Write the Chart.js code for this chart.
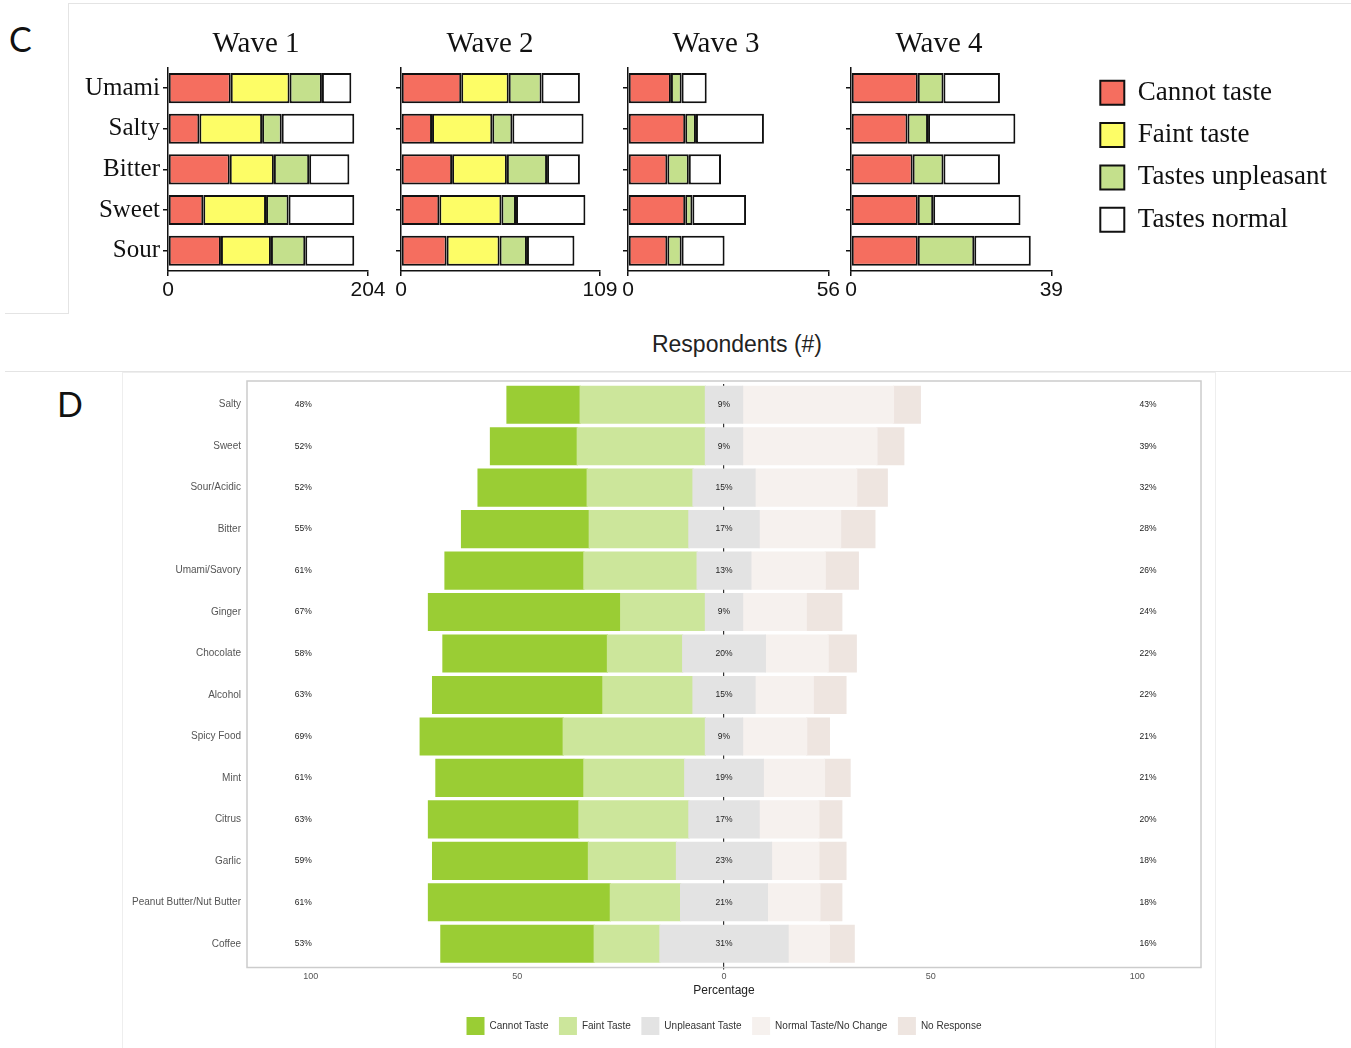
<!DOCTYPE html>
<html>
<head>
<meta charset="utf-8">
<title>Taste changes by wave</title>
<script src="https://cdn.jsdelivr.net/npm/chart.js@4.4.1/dist/chart.umd.min.js"></script>
<style>
  body { margin: 0; background: #fff; }
  #page { position: relative; width: 1351px; height: 1048px; overflow: hidden; font-family: "Liberation Sans", Arial, sans-serif; }
  canvas { position: absolute; }
  .line { position: absolute; background: #e4e4e4; }
  .panel { position: absolute; font-family: Lato, "Open Sans", sans-serif; font-size: 34px; line-height: 34px; color: #111; }
  #respondents { position: absolute; left: 537px; width: 400px; top: 331px; text-align: center; font-size: 23px; line-height: 26px; color: #222; }
  #boxD { position: absolute; left: 122px; top: 372px; width: 1092px; height: 680px; border: 1px solid #eeeeee; }
</style>
</head>
<body>
<div id="page">
  <div class="line" style="left:68px;top:3px;width:1283px;height:1px"></div>
  <div class="line" style="left:68px;top:3px;width:1px;height:310px"></div>
  <div class="line" style="left:5px;top:313px;width:64px;height:1px"></div>
  <div class="line" style="left:5px;top:371px;width:1346px;height:1px"></div>
  <div id="boxD"></div>
  <div class="panel" style="left:9px;top:22px">C</div>
  <div class="panel" style="left:57px;top:387px">D</div>
  <div id="respondents">Respondents (#)</div>

  <canvas id="wave1" width="352" height="310" style="left:80px;top:0"></canvas>
  <canvas id="wave2" width="260" height="310" style="left:360px;top:0"></canvas>
  <canvas id="wave3" width="252" height="310" style="left:590px;top:0"></canvas>
  <canvas id="wave4" width="252" height="310" style="left:813px;top:0"></canvas>
  <canvas id="waveLegend" width="264" height="400" style="left:1085px;top:64px"></canvas>
  <canvas id="likert" width="1093" height="676" style="left:122px;top:372px"></canvas>
</div>

<script>
// ---- panel C : counts per wave ----
const tastes = ['Umami', 'Salty', 'Bitter', 'Sweet', 'Sour'];
const waveAnswers = ['Cannot taste', 'Faint taste', 'Tastes unpleasant', 'Tastes normal'];
const waveColors = ['#f56e5f', '#fdfd66', '#c4e08c', '#ffffff'];

const wave1Cannot = [64, 32, 63, 36, 54];
const wave1Faint = [60, 64, 45, 64, 51];
const wave1Unpleasant = [33, 20, 36, 23, 35];
const wave1Normal = [30, 74, 41, 67, 50];

const wave2Cannot = [33, 17, 28, 21, 25];
const wave2Faint = [26, 33, 30, 34, 29];
const wave2Unpleasant = [18, 11, 22, 8, 15];
const wave2Normal = [21, 39, 18, 38, 26];

const wave3Cannot = [12, 16, 11, 16, 11];
const wave3Faint = [0, 0, 0, 0, 0];
const wave3Unpleasant = [3, 3, 6, 2, 4];
const wave3Normal = [7, 19, 9, 15, 12];

const wave4Cannot = [13, 11, 12, 13, 13];
const wave4Faint = [0, 0, 0, 0, 0];
const wave4Unpleasant = [5, 4, 6, 3, 11];
const wave4Normal = [11, 17, 11, 17, 11];

const waveMax = [204, 109, 56, 39];

// ---- panel D : percentages ----
const foods = ['Salty', 'Sweet', 'Sour/Acidic', 'Bitter', 'Umami/Savory', 'Ginger', 'Chocolate',
  'Alcohol', 'Spicy Food', 'Mint', 'Citrus', 'Garlic', 'Peanut Butter/Nut Butter', 'Coffee'];
const cannotTaste = [17.7, 21.0, 26.4, 30.9, 33.6, 46.5, 39.8, 41.2, 34.6, 35.8, 36.4, 37.7, 44.0, 37.1];
const faintTaste = [30.3, 31.0, 25.6, 24.1, 27.4, 20.5, 18.2, 21.8, 34.4, 24.4, 26.6, 21.3, 17.0, 15.9];
const unpleasantTaste = [9, 9, 15, 17, 13, 9, 20, 15, 9, 19, 17, 23, 21, 31];
const normalTaste = [36.5, 32.5, 24.6, 19.7, 18.0, 15.4, 15.2, 14.1, 15.5, 14.8, 14.45, 11.45, 12.7, 10.0];
const noResponse = [6.5, 6.5, 7.4, 8.3, 8.0, 8.6, 6.8, 7.9, 5.5, 6.2, 5.55, 6.55, 5.3, 6.0];
const leftPct = [48, 52, 52, 55, 61, 67, 58, 63, 69, 61, 63, 59, 61, 53];
const rightPct = [43, 39, 32, 28, 26, 24, 22, 22, 21, 21, 20, 18, 18, 16];
const likertOrder = ['Cannot Taste', 'Faint Taste', 'Unpleasant Taste', 'Normal Taste/No Change', 'No Response'];
const likertColors = ['#9acd34', '#cce69b', '#e3e3e3', '#f6f1ee', '#eee5e0'];

const serif = '"Liberation Serif", "Times New Roman", serif';
const sans = '"Liberation Sans", Arial, sans-serif';

// gap = empty right-hand axis, keeps the title centred on the canvas
function makeWave(id, title, maxCount, values, yWidth, gap, showLabels) {
    const ctx = document.getElementById(id).getContext('2d');
    return new Chart(ctx, {
        type: 'bar',
        data: {
            labels: tastes,
            datasets: waveAnswers.map((name, k) => ({
                label: name,
                data: values[k],
                backgroundColor: waveColors[k],
                borderColor: '#111',
                borderWidth: c => (c.raw === 0 ? 0 : 2),
                borderSkipped: false,
                barPercentage: 0.74,
                categoryPercentage: 1
            }))
        },
        options: {
            indexAxis: 'y',
            responsive: false,
            animation: false,
            layout: { padding: { bottom: 4 } },
            plugins: {
                legend: { display: false },
                tooltip: { enabled: false },
                title: {
                    display: true,
                    text: title,
                    color: '#111',
                    font: { family: serif, size: 29, weight: 'normal' },
                    padding: { top: 27, bottom: 6 }
                }
            },
            scales: {
                x: {
                    stacked: true,
                    min: 0,
                    max: maxCount,
                    afterBuildTicks: s => { s.ticks = [{ value: 0 }, { value: maxCount }]; },
                    afterFit: s => { s.height = 35; },
                    grid: { drawOnChartArea: false, tickLength: 5, color: '#111', lineWidth: 1.5 },
                    border: { color: '#111', width: 1.5 },
                    ticks: { color: '#111', font: { family: sans, size: 21 }, padding: 2, maxRotation: 0 }
                },
                y: {
                    stacked: true,
                    afterFit: s => { s.width = yWidth; },
                    grid: { drawOnChartArea: false, offset: false, tickLength: 5, color: '#111', lineWidth: 1.5 },
                    border: { color: '#111', width: 1.5 },
                    ticks: {
                        color: '#111',
                        font: { family: serif, size: 25 },
                        padding: 3,
                        callback: function (v) { return showLabels ? this.getLabelForValue(v) : ''; }
                    }
                },
                gap: {
                    type: 'linear',
                    position: 'right',
                    afterFit: s => { s.width = gap; },
                    grid: { display: false, drawTicks: false },
                    border: { display: false },
                    ticks: { display: false }
                }
            }
        }
    });
}

makeWave('wave1', 'Wave 1', waveMax[0], [wave1Cannot, wave1Faint, wave1Unpleasant, wave1Normal], 88, 64, true);
makeWave('wave2', 'Wave 2', waveMax[1], [wave2Cannot, wave2Faint, wave2Unpleasant, wave2Normal], 41, 20, false);
makeWave('wave3', 'Wave 3', waveMax[2], [wave3Cannot, wave3Faint, wave3Unpleasant, wave3Normal], 38, 10, false);
makeWave('wave4', 'Wave 4', waveMax[3], [wave4Cannot, wave4Faint, wave4Unpleasant, wave4Normal], 38, 10, false);

// legend of panel C, one item per row
new Chart(document.getElementById('waveLegend').getContext('2d'), {
    type: 'bar',
    data: {
        labels: [],
        datasets: waveAnswers.map((name, k) => ({
            label: name,
            data: [],
            backgroundColor: waveColors[k],
            borderColor: '#111',
            borderWidth: 2
        }))
    },
    options: {
        responsive: false,
        animation: false,
        scales: { x: { display: false }, y: { display: false } },
        plugins: {
            tooltip: { enabled: false },
            legend: {
                position: 'top',
                align: 'start',
                labels: { boxWidth: 24, boxHeight: 24, padding: 15.3, color: '#111', font: { family: serif, size: 27 } }
            }
        }
    }
});

// ---- panel D ----
const plotFrame = {
    id: 'plotFrame',
    beforeDatasetsDraw(chart) {
        const a = chart.chartArea;
        const c = chart.ctx;
        c.save();
        c.strokeStyle = '#cccccc';
        c.lineWidth = 1.5;
        c.strokeRect(a.left, a.top - 3, a.right - a.left, a.bottom - a.top + 6);
        c.restore();
    }
};

const pctLabels = {
    id: 'pctLabels',
    afterDatasetsDraw(chart) {
        const { ctx, scales: { x, y } } = chart;
        ctx.save();
        ctx.font = '8.5px ' + sans;
        ctx.fillStyle = '#222';
        ctx.textAlign = 'center';
        ctx.textBaseline = 'middle';
        foods.forEach((f, i) => {
            const py = y.getPixelForValue(i);
            ctx.fillText(leftPct[i] + '%', x.getPixelForValue(-101.8), py);
            ctx.fillText(unpleasantTaste[i] + '%', x.getPixelForValue(0), py);
            ctx.fillText(rightPct[i] + '%', x.getPixelForValue(102.6), py);
        });
        ctx.restore();
    }
};

function likertSet(label, data, color) {
    return {
        label, data,
        backgroundColor: color,
        borderWidth: 0,
        inflateAmount: 0.6,
        barPercentage: 0.89,
        categoryPercentage: 1
    };
}

// negative side stacks outward from 0: half of unpleasant, faint, cannot
new Chart(document.getElementById('likert').getContext('2d'), {
    type: 'bar',
    data: {
        labels: foods,
        datasets: [
            likertSet('Unpleasant Taste', unpleasantTaste.map(v => -v / 2), likertColors[2]),
            likertSet('Unpleasant Taste', unpleasantTaste.map(v => v / 2), likertColors[2]),
            likertSet('Faint Taste', faintTaste.map(v => -v), likertColors[1]),
            likertSet('Normal Taste/No Change', normalTaste, likertColors[3]),
            likertSet('Cannot Taste', cannotTaste.map(v => -v), likertColors[0]),
            likertSet('No Response', noResponse, likertColors[4])
        ]
    },
    options: {
        indexAxis: 'y',
        responsive: false,
        animation: false,
        layout: { padding: { top: 12, right: 14, bottom: 3 } },
        plugins: {
            tooltip: { enabled: false },
            legend: {
                position: 'bottom',
                fullSize: false,
                labels: {
                    boxWidth: 18,
                    boxHeight: 18,
                    padding: 10.5,
                    color: '#333',
                    font: { family: sans, size: 10 },
                    filter: item => item.datasetIndex !== 1,
                    sort: (a, b) => likertOrder.indexOf(a.text) - likertOrder.indexOf(b.text)
                }
            }
        },
        scales: {
            x: {
                stacked: true,
                min: -115.4,
                max: 115.4,
                afterFit: s => { s.height = 42; },
                border: { display: false },
                grid: {
                    color: c => (c.tick && c.tick.value === 0 ? '#333' : 'rgba(0,0,0,0)'),
                    lineWidth: 1.2,
                    tickLength: 5
                },
                ticks: {
                    stepSize: 50,
                    includeBounds: false,
                    padding: 2,
                    color: '#555',
                    font: { family: sans, size: 9 },
                    callback: v => Math.abs(v)
                },
                title: {
                    display: true,
                    text: 'Percentage',
                    color: '#222',
                    font: { family: sans, size: 12 },
                    padding: { top: 0, bottom: 9 }
                }
            },
            y: {
                stacked: true,
                afterFit: s => { s.width = 125; },
                border: { display: false },
                grid: { display: false, drawTicks: false },
                ticks: { autoSkip: false, padding: 6, color: '#555', font: { family: sans, size: 10 } }
            }
        }
    },
    plugins: [plotFrame, pctLabels]
});
</script>
</body>
</html>
